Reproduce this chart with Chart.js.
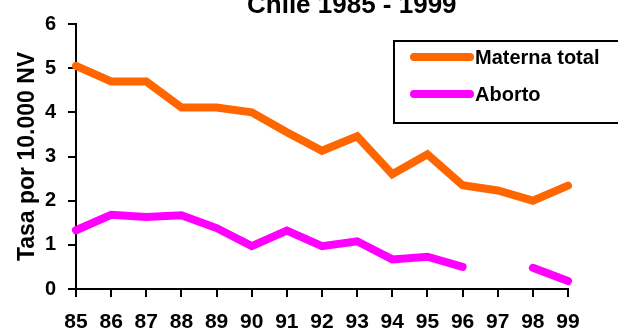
<!DOCTYPE html>
<html>
<head>
<meta charset="utf-8">
<script src="https://cdn.jsdelivr.net/npm/chart.js@4/dist/chart.umd.min.js"></script>
<style>
  html, body { margin: 0; padding: 0; background: #fff; }
  #wrap { width: 618px; height: 333px; }
</style>
</head>
<body>
<div id="wrap"><canvas id="c" width="618" height="333"></canvas></div>
<script>
// Maternal mortality rates per 10,000 live births, Chile 1985-1999
const years = ['85','86','87','88','89','90','91','92','93','94','95','96','97','98','99'];
const maternaTotal = [5.05, 4.70, 4.70, 4.11, 4.11, 4.00, 3.55, 3.13, 3.46, 2.60, 3.05, 2.35, 2.23, 2.00, 2.34];
const aborto = [1.33, 1.68, 1.63, 1.67, 1.38, 0.97, 1.32, 0.97, 1.08, 0.67, 0.73, 0.50, null, 0.48, 0.18];
const yTicks = [0, 1, 2, 3, 4, 5, 6];

const titleText = 'Chile 1985 - 1999';
const yTitle = 'Tasa por 10.000 NV';

const FONT = '"Liberation Sans", Arial, sans-serif';

// Title, partly above the top edge
const titlePlugin = {
  id: 'topTitle',
  afterDraw(chart) {
    const ctx = chart.ctx;
    ctx.save();
    ctx.font = 'bold 26px ' + FONT;
    ctx.fillStyle = '#000';
    ctx.textAlign = 'left';
    ctx.textBaseline = 'alphabetic';
    ctx.fillText(titleText, 247, 13);
    ctx.restore();
  }
};

// Boxed legend at the upper right
const boxLegend = {
  id: 'boxLegend',
  afterDraw(chart) {
    const ctx = chart.ctx;
    ctx.save();
    ctx.lineWidth = 2;
    ctx.strokeStyle = '#000';
    ctx.strokeRect(394, 41, 240, 82);
    const rows = [57, 94];
    chart.data.datasets.forEach((ds, i) => {
      const y = rows[i];
      ctx.beginPath();
      ctx.lineCap = 'round';
      ctx.lineWidth = 8;
      ctx.strokeStyle = ds.borderColor;
      ctx.moveTo(414, y);
      ctx.lineTo(470, y);
      ctx.stroke();
      ctx.font = 'bold 20px ' + FONT;
      ctx.fillStyle = '#000';
      ctx.textAlign = 'left';
      ctx.textBaseline = 'middle';
      ctx.fillText(ds.label, 475, y + 1);
    });
    ctx.restore();
  }
};

new Chart(document.getElementById('c'), {
  type: 'line',
  data: {
    labels: years,
    datasets: [
      {
        label: 'Materna total',
        data: maternaTotal,
        borderColor: '#FF6600',
        backgroundColor: '#FF6600',
        borderWidth: 8,
        pointRadius: 0,
        borderCapStyle: 'round',
        tension: 0
      },
      {
        label: 'Aborto',
        data: aborto,
        borderColor: '#FF00FF',
        backgroundColor: '#FF00FF',
        borderWidth: 8,
        pointRadius: 0,
        borderCapStyle: 'round',
        spanGaps: false,
        tension: 0
      }
    ]
  },
  options: {
    responsive: false,
    animation: false,
    events: [],
    layout: { padding: { left: 0, top: 20, right: 50, bottom: 0 } },
    plugins: {
      legend: { display: false },
      title: { display: false },
      tooltip: { enabled: false }
    },
    scales: {
      x: {
        offset: false,
        border: { display: true, color: '#000', width: 2 },
        grid: { drawOnChartArea: false, color: '#000', lineWidth: 2, tickLength: 8 },
        ticks: {
          color: '#000',
          font: { family: FONT, size: 21, weight: 'bold' },
          padding: 13,
          maxRotation: 0,
          autoSkip: false
        },
        afterFit(scale) { scale.height = 44; }
      },
      y: {
        min: 0,
        max: 6,
        border: { display: true, color: '#000', width: 2 },
        grid: { drawOnChartArea: false, color: '#000', lineWidth: 2, tickLength: 8 },
        afterBuildTicks(scale) { scale.ticks = yTicks.map(v => ({ value: v })); },
        ticks: {
          color: '#000',
          font: { family: FONT, size: 20, weight: 'bold' },
          padding: 12
        },
        title: {
          display: true,
          text: yTitle,
          color: '#000',
          font: { family: FONT, size: 23, weight: 'bold' },
          padding: { top: 14, bottom: 0 }
        },
        afterFit(scale) { scale.width = 76; }
      }
    }
  },
  plugins: [titlePlugin, boxLegend]
});
</script>
</body>
</html>
